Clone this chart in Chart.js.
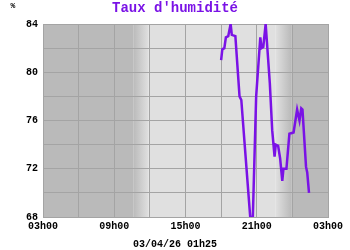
<!DOCTYPE html>
<html><head><meta charset="utf-8">
<script src="https://cdn.jsdelivr.net/npm/chart.js@4/dist/chart.umd.min.js"></script>
<style>html,body{margin:0;padding:0;background:#fff}#c{display:block}</style>
</head><body>
<canvas id="c" width="350" height="250"></canvas>
<script>
const hours = [18.0,18.1,18.27,18.4,18.6,18.8,18.9,19.2,19.55,19.7,20.0,20.45,20.67,20.95,21.3,21.4,21.55,21.75,22.1,22.3,22.5,22.6,22.8,22.97,23.15,23.25,23.5,23.75,24.1,24.4,24.6,24.75,24.85,25.15,25.25,25.4];
const humidity = [81.0,81.9,82.0,82.9,83.0,84.0,83.1,83.0,78.0,77.7,73.8,68.0,68.0,78.0,82.9,82.0,82.1,84.0,79.1,75.2,73.0,74.0,73.9,72.85,71.0,72.0,72.0,74.9,75.0,76.9,76.0,77.0,76.9,72.15,71.7,70.0];
const xTickLabels = {3:'03h00',9:'09h00',15:'15h00',21:'21h00',27:'03h00'};
const yTickLabels = [68,72,76,80,84];
const nightBands = [[3,10.6,'dark'],[10.6,11.9,'dawn'],[11.9,22.6,'light'],[22.6,23.9,'dusk'],[23.9,27,'dark']];
const titleText = "Taux d'humidité";
const dateText = '03/04/26 01h25';
const unitText = '%';

const DARK = '#bababa', LIGHT = '#e0e0e0', PURPLE = '#7a12e6';
const bgPlugin = {
  id: 'bg',
  beforeDraw(chart) {
    const {ctx, chartArea: a, scales: {x}} = chart;
    ctx.save();
    nightBands.forEach(([s, e, kind]) => {
      const x0 = x.getPixelForValue(s), x1 = x.getPixelForValue(e);
      let fill;
      if (kind === 'dark') fill = DARK;
      else if (kind === 'light') fill = LIGHT;
      else {
        const g = ctx.createLinearGradient(x0, 0, x1, 0);
        g.addColorStop(0, kind === 'dawn' ? DARK : LIGHT);
        g.addColorStop(1, kind === 'dawn' ? LIGHT : DARK);
        fill = g;
      }
      ctx.fillStyle = fill;
      ctx.fillRect(x0, a.top, x1 - x0, a.bottom - a.top);
    });
    ctx.restore();
  },
  afterDraw(chart) {
    const ctx = chart.ctx, W = chart.width;
    ctx.save();
    ctx.textAlign = 'center';
    ctx.textBaseline = 'middle';
    ctx.fillStyle = '#000';
    ctx.font = 'bold 8px "Liberation Mono"';
    ctx.fillText(unitText, 13, 6);
    ctx.fillStyle = PURPLE;
    ctx.font = 'bold 14px "Liberation Mono"';
    ctx.fillText(titleText, W / 2, 8.5);
    ctx.fillStyle = '#000';
    ctx.font = 'bold 10px "Liberation Mono"';
    ctx.fillText(dateText, W / 2, 244);
    ctx.restore();
  }
};

new Chart(document.getElementById('c'), {
  type: 'line',
  data: {
    datasets: [{
      data: hours.map((h, i) => ({x: h, y: humidity[i]})),
      borderColor: PURPLE,
      borderWidth: 2.5,
      pointRadius: 0,
      tension: 0,
      fill: false
    }]
  },
  options: {
    responsive: false,
    animation: false,
    layout: {padding: {left: 0, right: 22, top: 24, bottom: 16}},
    plugins: {
      legend: {display: false},
      tooltip: {enabled: false},
      title: {display: false},
      subtitle: {display: false}
    },
    scales: {
      x: {
        type: 'linear', min: 3, max: 27,
        afterBuildTicks(s) { s.ticks = []; for (let v = 3; v <= 27; v += 3) s.ticks.push({value: v}); },
        afterFit(s) { s.height = 17; },
        grid: {color: '#a4a4a4', drawTicks: false},
        border: {color: '#a4a4a4'},
        ticks: {autoSkip: false, maxRotation: 0, padding: 3, color: '#000',
          font: {family: '"Liberation Mono"', size: 10, weight: 'bold'},
          callback: v => xTickLabels[v] || ''}
      },
      y: {
        min: 68, max: 84,
        afterBuildTicks(s) { s.ticks = []; for (let v = 68; v <= 84; v += 2) s.ticks.push({value: v}); },
        afterFit(s) { s.width = 43; },
        grid: {color: '#a4a4a4', drawTicks: false},
        border: {color: '#a4a4a4'},
        ticks: {autoSkip: false, padding: 5, color: '#000',
          font: {family: '"Liberation Mono"', size: 10, weight: 'bold'},
          callback: v => yTickLabels.includes(v) ? String(v) : ''}
      }
    }
  },
  plugins: [bgPlugin]
});
</script>
</body></html>
